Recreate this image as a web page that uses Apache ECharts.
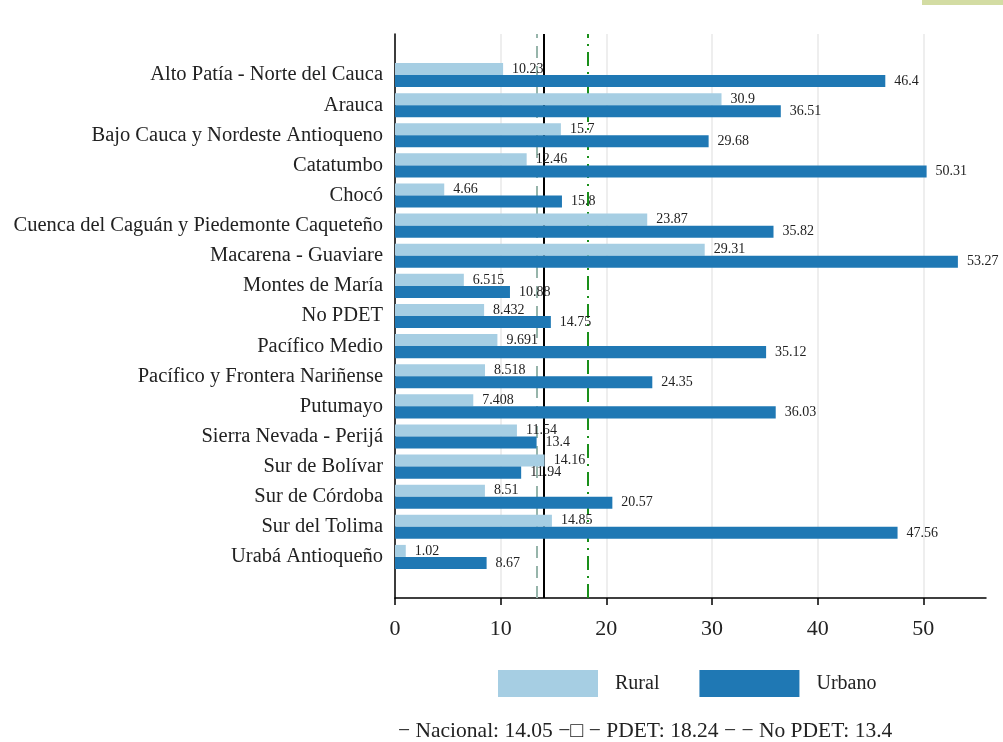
<!DOCTYPE html>
<html>
<head>
<meta charset="utf-8">
<script src="https://cdn.jsdelivr.net/npm/echarts@6/dist/echarts.min.js"></script>
<style>
  html, body { margin: 0; padding: 0; background: #fff; }
  #chart { width: 1003px; height: 742px; }
</style>
</head>
<body>
<div id="chart"></div>
<script>
const regions = [
  'Alto Patía - Norte del Cauca',
  'Arauca',
  'Bajo Cauca y Nordeste Antioqueno',
  'Catatumbo',
  'Chocó',
  'Cuenca del Caguán y Piedemonte Caqueteño',
  'Macarena - Guaviare',
  'Montes de María',
  'No PDET',
  'Pacífico Medio',
  'Pacífico y Frontera Nariñense',
  'Putumayo',
  'Sierra Nevada - Perijá',
  'Sur de Bolívar',
  'Sur de Córdoba',
  'Sur del Tolima',
  'Urabá Antioqueño'
]
const rural = [10.23, 30.9, 15.7, 12.46, 4.66, 23.87, 29.31, 6.515, 8.432, 9.691, 8.518, 7.408, 11.54, 14.16, 8.51, 14.85, 1.02]
const urbano = [46.4, 36.51, 29.68, 50.31, 15.8, 35.82, 53.27, 10.88, 14.75, 35.12, 24.35, 36.03, 13.4, 11.94, 20.57, 47.56, 8.67]
const refNacional = 14.05
const refPdet = 18.24
const refNoPdet = 13.4
const xTicks = [0, 10, 20, 30, 40, 50]

const font = '"Liberation Serif", "DejaVu Serif", serif'
const xMax = 55.93

const chart = echarts.init(document.getElementById('chart'))

const barLabel = {
  show: true,
  position: 'right',
  distance: 9,
  fontFamily: font,
  fontSize: 14,
  color: '#222',
  formatter: p => String(p.value)
}

const option = {
  animation: false,
  textStyle: { fontFamily: font },
  grid: [
    { left: 395, right: 17, top: 60, height: 512 },
    { left: 395, right: 17, top: 34, bottom: 144 }
  ],
  xAxis: [
    { gridIndex: 0, type: 'value', min: 0, max: xMax, show: false },
    {
      gridIndex: 1,
      type: 'value',
      min: 0,
      max: xMax,
      interval: 10,
      axisLine: { show: true, lineStyle: { color: '#000', width: 1.5 } },
      axisTick: { show: true, length: 7, customValues: xTicks, lineStyle: { color: '#000', width: 1.5 } },
      axisLabel: {
        fontFamily: font,
        fontSize: 22,
        color: '#222',
        margin: 20,
        customValues: xTicks
      },
      splitLine: { show: true, lineStyle: { color: '#e8e8e8', width: 1.5 } }
    }
  ],
  yAxis: [
    {
      gridIndex: 0,
      type: 'category',
      inverse: true,
      data: regions,
      axisLine: { show: false },
      axisTick: { show: false },
      axisLabel: { fontFamily: font, fontSize: 20.5, color: '#222', margin: 12 }
    },
    {
      gridIndex: 1,
      type: 'value',
      min: 0,
      max: 1,
      axisLine: { show: true, lineStyle: { color: '#000', width: 1.5 } },
      axisTick: { show: false },
      axisLabel: { show: false },
      splitLine: { show: false }
    }
  ],
  legend: {
    data: ['Rural', 'Urbano'],
    icon: 'rect',
    left: 498,
    top: 670,
    padding: 0,
    itemWidth: 100,
    itemHeight: 27,
    itemGap: 40,
    textStyle: { fontFamily: font, fontSize: 20, color: '#222', padding: [0, 0, 0, 12] }
  },
  series: [
    {
      name: 'Rural',
      type: 'bar',
      xAxisIndex: 0,
      yAxisIndex: 0,
      z: 3,
      data: rural,
      barGap: '0%',
      barCategoryGap: '20%',
      itemStyle: { color: '#a6cee3' },
      label: barLabel
    },
    {
      name: 'Urbano',
      type: 'bar',
      xAxisIndex: 0,
      yAxisIndex: 0,
      z: 3,
      data: urbano,
      barGap: '0%',
      barCategoryGap: '20%',
      itemStyle: { color: '#1f78b4' },
      label: barLabel
    },
    {
      name: 'refs',
      type: 'line',
      xAxisIndex: 1,
      yAxisIndex: 1,
      z: 1,
      data: [],
      markLine: {
        silent: true,
        z: 1,
        symbol: 'none',
        label: { show: false },
        data: [
          { xAxis: refNoPdet, lineStyle: { color: '#97b5ab', type: [12, 8], width: 2 } },
          { xAxis: refPdet, lineStyle: { color: '#1a8f1a', type: [14, 6, 2, 6], width: 2 } },
          { xAxis: refNacional, lineStyle: { color: '#000', type: 'solid', width: 2 } }
        ]
      }
    }
  ],
  graphic: [
    {
      type: 'rect',
      left: 922,
      top: 0,
      shape: { width: 81, height: 5 },
      style: { fill: '#d3dca3' }
    },
    {
      type: 'text',
      left: 398,
      top: 720,
      style: {
        text: '− Nacional: ' + refNacional + ' −□ − PDET: ' + refPdet + ' − − No PDET: ' + refNoPdet,
        font: '21.5px ' + font,
        fill: '#222'
      }
    }
  ]
}

chart.setOption(option)
</script>
</body>
</html>
